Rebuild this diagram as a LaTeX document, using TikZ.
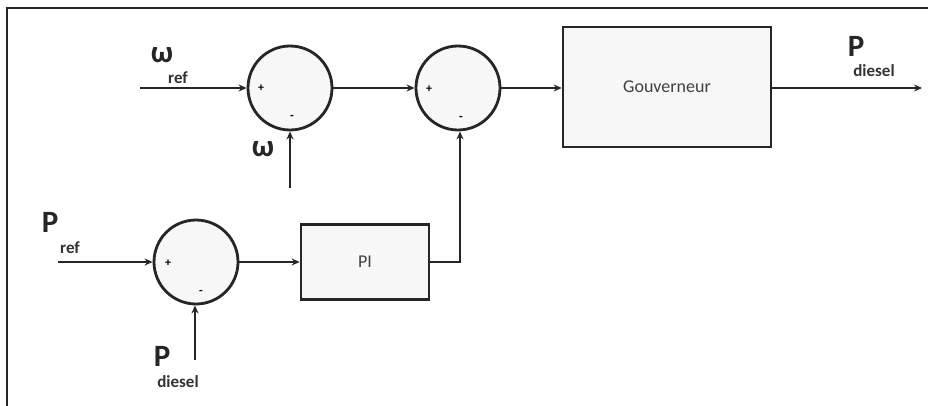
\documentclass[tikz,border=0pt]{standalone}
\usepackage{fontspec}
\setmainfont{Carlito}
\usetikzlibrary{arrows.meta}
\begin{document}
\begin{tikzpicture}[x=1pt,y=-1pt,
  sumnode/.style={circle,draw=black!85,line width=2.8pt,fill=gray!6,minimum size=84pt,inner sep=0pt},
  blk/.style={rectangle,draw=black!85,line width=2.6pt,fill=gray!6,font=\fontsize{18}{18}\selectfont,text=black!75},
  sig/.style={line width=2.5pt,draw=black!85,-{Stealth[length=8pt,width=7pt]}},
  big/.style={font=\bfseries\fontsize{31}{31}\selectfont,text=black!85,inner sep=0pt},
  sub/.style={font=\bfseries\fontsize{17}{17}\selectfont,text=black!80,inner sep=0pt},
  sgn/.style={font=\bfseries\fontsize{12}{12}\selectfont,inner sep=0pt}]
\useasboundingbox (0,0) rectangle (928,406);
\draw[line width=2pt,black!85] (7,406) -- (7,8) -- (928,8);
% sum junctions
\node[sumnode] (s1) at (290,88) {};
\node[sumnode] (s2) at (458,88) {};
\node[sumnode] (s3) at (196,262) {};
\node[sgn] (s1p) at (261,88) {+};
\node[sgn] (s1m) at (292,117) {-};
\node[sgn] (s2p) at (429,89) {+};
\node[sgn] (s2m) at (461,118) {-};
\node[sgn] (s3p) at (168,263) {+};
\node[sgn] (s3m) at (201,292) {-};
% blocks
\node[blk,minimum width=208pt,minimum height=120pt] (gov) at (667,87) {Gouverneur};
\node[blk,minimum width=128pt,minimum height=75pt] (pi) at (365,262) {PI};
% labels
\node[big] (wref) at (162,55) {ω};
\node[sub] (wrefs) at (178,78) {ref};
\node[big] (w) at (263,149) {ω};
\node[big] (pref) at (50,222) {P};
\node[sub] (prefs) at (70,248) {ref};
\node[big] (pd1) at (162,356) {P};
\node[sub] (pd1s) at (178,382) {diesel};
\node[big] (pd2) at (856,46) {P};
\node[sub] (pd2s) at (874,71) {diesel};
% free ends
\coordinate (wrefin) at (140,88);
\coordinate (win) at (290,188);
\coordinate (prefin) at (58,262);
\coordinate (pdin) at (195,360);
\coordinate (out) at (922,88);
\coordinate (corner) at (460,262);
% connectors
\draw[sig] (wrefin) -- (s1.west);
\draw[sig] (win) -- (s1.south);
\draw[sig] (s1.east) -- (s2.west);
\draw[sig] (s2.east) -- (gov.west |- s2.east);
\draw[sig] (gov.east |- out) -- (out);
\draw[sig] (prefin) -- (s3.west);
\draw[sig] (pdin) -- (pdin |- s3.south);
\draw[sig] (s3.east) -- (pi.west);
\draw[sig] (pi.east) -- (corner) -- (corner |- s2.south);
\end{tikzpicture}
\end{document}
